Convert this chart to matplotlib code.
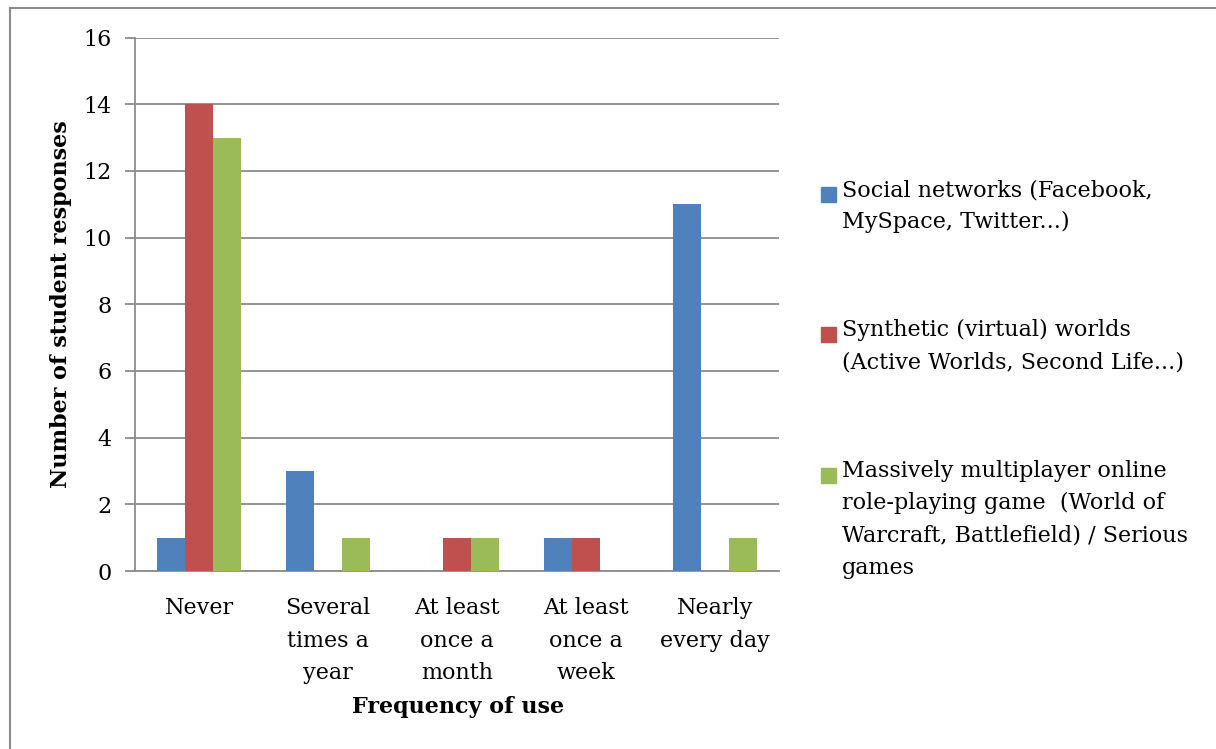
import numpy as np
import matplotlib.pyplot as plt
from matplotlib.patches import Rectangle
from matplotlib.lines import Line2D

categories = ["Never", "Several\ntimes a\nyear", "At least\nonce a\nmonth",
              "At least\nonce a\nweek", "Nearly\nevery day"]
social = [1, 3, 0, 1, 11]
synthetic = [14, 0, 1, 1, 0]
mmorpg = [13, 1, 1, 0, 1]
series_names = ["Social networks (Facebook,\nMySpace, Twitter...)",
                "Synthetic (virtual) worlds\n(Active Worlds, Second Life...)",
                "Massively multiplayer online\nrole-playing game  (World of\nWarcraft, Battlefield) / Serious\ngames"]
colors = ["#4F81BD", "#C0504D", "#9BBB59"]

plt.rcParams['font.family'] = ['DejaVu Serif']

W, H = 1216, 749
fig = plt.figure(figsize=(12.16, 7.49), dpi=100)
ax = fig.add_axes([135 / W, 1 - 571 / H, 644 / W, (571 - 37.5) / H])

x = np.arange(len(categories))
w = 0.217
for i, (vals, c) in enumerate(zip([social, synthetic, mmorpg], colors)):
    ax.bar(x + (i - 1) * w, vals, width=w, color=c, zorder=3)

ax.set_xlim(-0.5, len(categories) - 0.5)
ax.set_ylim(0, 16)
ax.set_yticks(range(0, 17, 2))
ax.grid(axis='y', color='#8c8c8c', linewidth=1.3, zorder=0)
ax.set_xticks(x)
ax.set_xticklabels(categories, fontsize=16, linespacing=1.6, va='top')
ax.tick_params(axis='x', length=0, pad=19)
ax.tick_params(axis='y', labelsize=16, length=7, width=1.3, color='#8c8c8c', pad=10)
for s in ['top', 'right']:
    ax.spines[s].set_visible(False)
for s in ['left', 'bottom']:
    ax.spines[s].set_color('#8c8c8c')
    ax.spines[s].set_linewidth(1.3)

ax.set_ylabel("Number of student responses", fontsize=16, fontweight='bold', labelpad=8)
fig.text(458 / W, 1 - 707 / H, "Frequency of use", fontsize=16,
         fontweight='bold', ha='center', va='center')

# legend drawn by hand so the square sits at the first text line
legend_y = [187, 327, 468]
for name, c, y in zip(series_names, colors, legend_y):
    fig.patches.append(Rectangle((821 / W, 1 - (y + 15) / H), 15 / W, 15 / H,
                                 transform=fig.transFigure, color=c))
    fig.text(842 / W, 1 - (y - 8) / H, name, fontsize=16, va='top', ha='left',
             linespacing=1.6)

# page border (only top and left edges show)
fig.lines.append(Line2D([10 / W, 10 / W], [0, 1 - 8 / H], transform=fig.transFigure,
                        color='#8c8c8c', linewidth=1.5))
fig.lines.append(Line2D([10 / W, 1], [1 - 8 / H, 1 - 8 / H], transform=fig.transFigure,
                        color='#8c8c8c', linewidth=1.5))

fig.savefig("out.png", dpi=100)
